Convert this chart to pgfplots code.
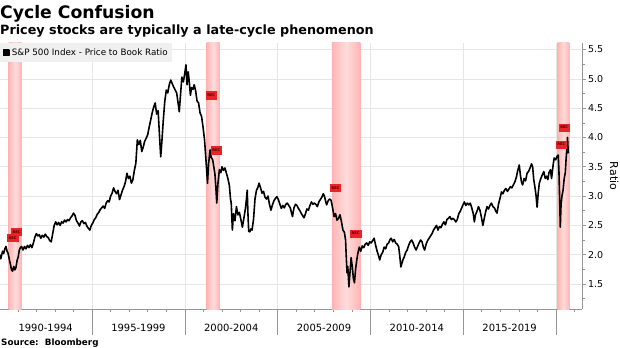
\documentclass[border=0pt]{standalone}
\usepackage{pgfplots}
\pgfplotsset{compat=1.18}
\usepackage{fontspec}
\setmainfont{DejaVu Sans}
\definecolor{bandedge}{RGB}{255,180,180}
\definecolor{bandmid}{RGB}{255,220,220}
\definecolor{recred}{RGB}{232,36,40}
\definecolor{gridc}{RGB}{230,230,230}
\definecolor{axc}{RGB}{150,150,150}
\begin{document}
\begin{tikzpicture}[x=1bp,y=1bp]
\begin{axis}[
  name=main,
  at={(0,0)}, anchor=south west,
  scale only axis, width=582bp, height=266bp,
  xmin=1990.04, xmax=2021.40, ymin=1.073, ymax=5.613,
  axis x line*=bottom, axis y line*=right,
  axis line style={axc, line width=0.6bp},
  xtick={1992.5,1997.5,2002.5,2007.5,2012.5,2017.5},
  xticklabels={1990-1994,1995-1999,2000-2004,2005-2009,2010-2014,2015-2019},
  major x tick style={draw=none},
  minor xtick={1990,1991,...,2021},
  minor x tick style={axc, line width=0.6bp},
  xmajorgrids=false, ymajorgrids=true,
  tick align=outside,
  xtick pos=bottom,
  major tick length=3.5bp, minor tick length=3bp,
  ytick={1.5,2,...,5.5},
  minor ytick={1.25,1.75,...,5.5},
  y tick style={axc, line width=0.6bp},
  ytick pos=right, yticklabel pos=right,
  yticklabel style={font=\fontsize{9.5}{11}\selectfont, xshift=-1bp, /pgf/number format/fixed, /pgf/number format/fixed zerofill, /pgf/number format/precision=1},
  xticklabel style={font=\fontsize{10}{12}\selectfont, yshift=-8bp},
  /pgf/number format/assume math mode=true,
  major grid style={gridc, line width=0.6bp},
  ylabel={Ratio}, ylabel style={font=\fontsize{11}{13}\selectfont, rotate=180},
  legend style={at={(0,1)}, anchor=north west, fill=gray!12, draw=none, font=\fontsize{8.8}{10}\selectfont, inner xsep=2.5bp, inner ysep=3.5bp},
  legend cell align=left,
  clip=false,
  unbounded coords=jump,
]
% vertical grid lines and separators (5-year boundaries)
\addplot[forget plot, gridc, line width=0.6bp] coordinates {
(1995,1.073) (1995,5.613) (nan,nan)
(2000,1.073) (2000,5.613) (nan,nan)
(2005,1.073) (2005,5.613) (nan,nan)
(2010,1.073) (2010,5.613) (nan,nan)
(2015,1.073) (2015,5.613) (nan,nan)
(2020,1.073) (2020,5.613)
};
\addplot[forget plot, axc, line width=0.6bp] coordinates {
(1995,1.073) (1995,0.629) (nan,nan)
(2000,1.073) (2000,0.629) (nan,nan)
(2005,1.073) (2005,0.629) (nan,nan)
(2010,1.073) (2010,0.629) (nan,nan)
(2015,1.073) (2015,0.629) (nan,nan)
(2020,1.073) (2020,0.629)
};
% recession bands
\addplot[forget plot, draw=none, left color=bandedge, right color=bandedge, middle color=bandmid] coordinates {(1990.50,1.073) (1990.50,5.613) (1991.21,5.613) (1991.21,1.073)} -- cycle;
\addplot[forget plot, draw=none, left color=bandedge, right color=bandedge, middle color=bandmid] coordinates {(2001.17,1.073) (2001.17,5.613) (2001.88,5.613) (2001.88,1.073)} -- cycle;
\addplot[forget plot, draw=none, left color=bandedge, right color=bandedge, middle color=bandmid] coordinates {(2007.92,1.073) (2007.92,5.613) (2009.46,5.613) (2009.46,1.073)} -- cycle;
\addplot[forget plot, draw=none, left color=bandedge, right color=bandedge, middle color=bandmid] coordinates {(2020.08,1.073) (2020.08,5.613) (2020.72,5.613) (2020.72,1.073)} -- cycle;
% S&P 500 price to book
\addplot[black, line width=1.6bp, line join=round, mark=none,
  legend image code/.code={\fill[black] (0bp,-2.8bp) rectangle (5.6bp,2.8bp);}] table {
x y
1990.04 2.00
1990.08 1.93
1990.12 1.98
1990.18 2.06
1990.24 2.02
1990.30 2.10
1990.36 2.14
1990.42 2.06
1990.48 2.02
1990.54 1.92
1990.60 1.84
1990.66 1.74
1990.72 1.72
1990.78 1.80
1990.84 1.74
1990.90 1.78
1990.96 1.90
1991.02 1.96
1991.08 2.08
1991.14 2.12
1991.20 2.14
1991.28 2.08
1991.36 2.14
1991.44 2.10
1991.52 2.16
1991.60 2.12
1991.68 2.17
1991.76 2.12
1991.84 2.20
1991.92 2.30
1992.00 2.36
1992.08 2.32
1992.16 2.34
1992.24 2.28
1992.32 2.33
1992.40 2.30
1992.48 2.35
1992.56 2.31
1992.64 2.29
1992.72 2.24
1992.80 2.22
1992.88 2.36
1992.96 2.50
1993.04 2.56
1993.12 2.51
1993.20 2.55
1993.28 2.50
1993.36 2.56
1993.44 2.54
1993.52 2.59
1993.60 2.56
1993.68 2.60
1993.76 2.58
1993.84 2.63
1993.92 2.66
1994.00 2.71
1994.08 2.67
1994.16 2.58
1994.24 2.54
1994.32 2.49
1994.40 2.56
1994.48 2.58
1994.56 2.53
1994.64 2.55
1994.72 2.49
1994.80 2.45
1994.88 2.42
1994.96 2.50
1995.04 2.54
1995.12 2.60
1995.20 2.63
1995.28 2.69
1995.36 2.72
1995.44 2.77
1995.52 2.80
1995.60 2.83
1995.68 2.79
1995.76 2.88
1995.84 2.92
1995.92 2.90
1996.00 3.00
1996.08 3.05
1996.16 3.14
1996.24 3.08
1996.32 3.04
1996.40 3.10
1996.48 2.94
1996.56 3.02
1996.64 3.10
1996.72 3.16
1996.80 3.24
1996.88 3.39
1996.96 3.30
1997.04 3.34
1997.12 3.22
1997.20 3.28
1997.28 3.44
1997.36 3.56
1997.44 3.96
1997.52 3.88
1997.60 3.95
1997.68 3.76
1997.76 3.84
1997.84 3.94
1997.92 3.99
1998.00 4.05
1998.08 4.18
1998.16 4.30
1998.24 4.42
1998.32 4.52
1998.40 4.59
1998.48 4.40
1998.56 4.46
1998.64 4.00
1998.70 3.67
1998.76 3.92
1998.84 4.30
1998.92 4.62
1999.00 4.81
1999.08 4.76
1999.16 4.90
1999.24 4.98
1999.32 4.92
1999.40 4.86
1999.48 4.81
1999.56 4.76
1999.64 4.58
1999.70 4.44
1999.76 4.70
1999.84 5.03
1999.92 4.95
2000.00 5.10
2000.06 5.24
2000.12 4.90
2000.18 5.12
2000.24 4.95
2000.30 4.72
2000.36 4.85
2000.44 4.82
2000.50 4.90
2000.58 4.80
2000.66 4.62
2000.74 4.59
2000.82 4.42
2000.90 4.36
2000.98 4.18
2001.06 3.96
2001.12 3.70
2001.18 3.42
2001.22 3.22
2001.28 3.55
2001.36 3.79
2001.42 3.66
2001.50 3.62
2001.56 3.50
2001.62 3.38
2001.68 3.10
2001.72 2.88
2001.78 3.20
2001.86 3.45
2001.94 3.40
2002.00 3.50
2002.08 3.44
2002.16 3.48
2002.24 3.39
2002.32 3.30
2002.40 3.18
2002.46 2.95
2002.50 2.88
2002.56 2.42
2002.62 2.70
2002.70 2.58
2002.78 2.82
2002.86 2.68
2002.94 2.72
2003.02 2.60
2003.10 2.47
2003.18 2.62
2003.26 2.78
2003.32 2.95
2003.36 3.10
2003.40 2.70
2003.44 2.40
2003.50 2.39
2003.56 2.44
2003.62 2.42
2003.70 2.60
2003.78 2.95
2003.86 3.10
2003.94 3.15
2004.00 3.22
2004.08 3.14
2004.16 3.05
2004.24 3.08
2004.32 2.98
2004.40 2.95
2004.48 3.00
2004.56 2.86
2004.64 2.76
2004.72 2.85
2004.80 2.92
2004.88 2.96
2004.96 2.99
2005.04 2.94
2005.12 2.86
2005.20 2.79
2005.28 2.84
2005.36 2.80
2005.44 2.86
2005.52 2.88
2005.60 2.84
2005.68 2.80
2005.76 2.70
2005.80 2.65
2005.88 2.80
2005.96 2.86
2006.04 2.84
2006.12 2.79
2006.20 2.75
2006.28 2.70
2006.36 2.66
2006.42 2.63
2006.50 2.70
2006.58 2.78
2006.66 2.76
2006.74 2.84
2006.82 2.90
2006.90 2.86
2006.98 2.88
2007.06 2.86
2007.14 2.82
2007.22 2.90
2007.30 2.94
2007.38 2.98
2007.46 3.04
2007.52 3.00
2007.58 2.92
2007.64 2.85
2007.72 2.92
2007.80 2.95
2007.88 2.93
2007.96 2.80
2008.04 2.65
2008.12 2.70
2008.20 2.59
2008.28 2.62
2008.36 2.68
2008.44 2.56
2008.52 2.42
2008.60 2.38
2008.66 2.25
2008.70 1.95
2008.74 1.69
2008.78 1.80
2008.84 1.45
2008.90 1.70
2008.96 1.95
2009.02 1.80
2009.08 1.60
2009.14 1.52
2009.20 1.75
2009.26 1.90
2009.32 2.02
2009.40 2.13
2009.48 2.06
2009.56 2.15
2009.64 2.12
2009.72 2.18
2009.80 2.20
2009.88 2.16
2009.96 2.22
2010.04 2.20
2010.12 2.24
2010.20 2.28
2010.28 2.16
2010.36 2.06
2010.44 1.98
2010.50 1.91
2010.58 2.00
2010.66 2.04
2010.74 2.13
2010.82 2.10
2010.90 2.18
2010.98 2.20
2011.06 2.26
2011.12 2.28
2011.20 2.22
2011.28 2.26
2011.36 2.20
2011.44 2.18
2011.52 2.14
2011.58 1.98
2011.64 1.79
2011.70 1.86
2011.76 1.92
2011.82 1.96
2011.90 2.04
2011.98 2.08
2012.06 2.16
2012.14 2.22
2012.22 2.25
2012.30 2.20
2012.38 2.13
2012.46 2.08
2012.54 2.14
2012.62 2.20
2012.70 2.25
2012.78 2.22
2012.86 2.12
2012.92 2.08
2013.00 2.18
2013.08 2.24
2013.16 2.28
2013.24 2.32
2013.32 2.36
2013.40 2.42
2013.48 2.46
2013.56 2.50
2013.64 2.42
2013.72 2.48
2013.80 2.46
2013.88 2.52
2013.96 2.56
2014.04 2.51
2014.12 2.60
2014.20 2.62
2014.28 2.65
2014.36 2.60
2014.44 2.62
2014.52 2.60
2014.60 2.56
2014.68 2.60
2014.76 2.70
2014.84 2.74
2014.92 2.80
2015.00 2.86
2015.06 2.90
2015.14 2.84
2015.22 2.88
2015.30 2.85
2015.38 2.88
2015.46 2.80
2015.54 2.70
2015.60 2.56
2015.66 2.68
2015.74 2.74
2015.82 2.82
2015.90 2.76
2015.98 2.64
2016.06 2.50
2016.12 2.60
2016.20 2.72
2016.28 2.82
2016.36 2.78
2016.44 2.84
2016.52 2.88
2016.60 2.82
2016.68 2.80
2016.76 2.74
2016.82 2.71
2016.90 2.86
2016.98 2.96
2017.06 3.07
2017.14 3.04
2017.22 3.10
2017.30 3.13
2017.38 3.08
2017.46 3.12
2017.54 3.16
2017.62 3.14
2017.70 3.19
2017.78 3.24
2017.86 3.32
2017.94 3.44
2018.02 3.53
2018.08 3.36
2018.14 3.24
2018.20 3.19
2018.28 3.30
2018.36 3.26
2018.44 3.39
2018.52 3.42
2018.60 3.48
2018.68 3.55
2018.74 3.50
2018.80 3.28
2018.86 3.16
2018.92 3.02
2018.98 2.81
2019.04 3.05
2019.10 3.22
2019.18 3.30
2019.26 3.36
2019.34 3.42
2019.42 3.30
2019.50 3.34
2019.56 3.28
2019.62 3.40
2019.70 3.45
2019.76 3.30
2019.84 3.52
2019.90 3.65
2019.98 3.62
2020.06 3.68
2020.12 3.70
2020.16 3.40
2020.20 2.90
2020.23 2.47
2020.27 2.85
2020.32 3.00
2020.38 3.10
2020.44 3.30
2020.50 3.40
2020.54 3.62
2020.58 3.79
2020.62 4.00
2020.66 3.73
};
\addlegendentry{S\&P 500 Index - Price to Book Ratio}
% REC markers
\addplot[forget plot, only marks, mark=square*, mark size=3.8bp,
  mark options={fill=recred, draw=recred, xscale=1.35},
  nodes near coords={REC},
  every node near coord/.append style={anchor=center, font=\fontsize{3.6}{4}\selectfont\bfseries, text=black!70!red, inner sep=0pt}] coordinates {
(1990.72,2.29) (1990.93,2.39)
(2001.42,4.72) (2001.69,3.78)
(2008.12,3.14) (2009.20,2.36)
(2020.28,3.88) (2020.44,4.17)
};
\end{axis}
\node[anchor=base west, inner sep=0pt, font=\fontsize{17.3}{20}\selectfont\bfseries] at (0bp,290bp) {Cycle Confusion};
\node[anchor=base west, inner sep=0pt, font=\fontsize{12.8}{14}\selectfont\bfseries] at (0bp,274bp) {Pricey stocks are typically a late-cycle phenomenon};
\node[anchor=base west, inner sep=0pt, font=\fontsize{8.8}{10}\selectfont\bfseries] at (1bp,-36bp) {Source:\ \ Bloomberg};
\pgfresetboundingbox
\useasboundingbox (0bp,-39bp) rectangle (620bp,309bp);
\end{tikzpicture}
\end{document}
